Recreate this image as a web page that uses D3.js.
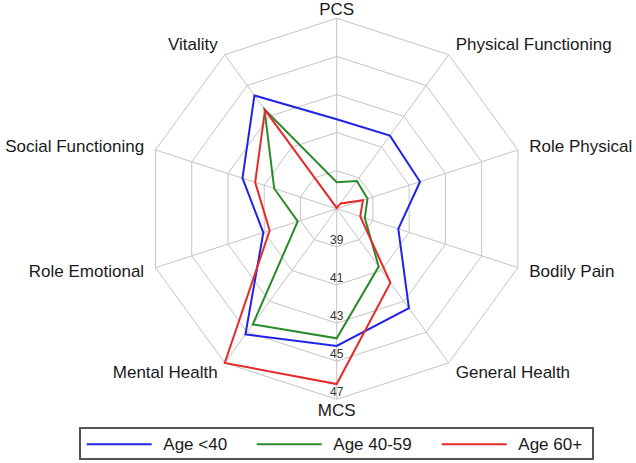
<!DOCTYPE html>
<html>
<head>
<meta charset="utf-8">
<script src="https://cdn.jsdelivr.net/npm/d3@7"></script>
<style>
html,body{margin:0;padding:0;background:#fff;}
svg{display:block;}
text{font-family:"Liberation Sans",Arial,sans-serif;}
</style>
</head>
<body>
<svg id="chart" width="636" height="463"></svg>
<script>
const axesLabels = ["PCS","Physical Functioning","Role Physical","Bodily Pain","General Health","MCS","Mental Health","Role Emotional","Social Functioning","Vitality"];
const tickValues = [39,41,43,45,47];
const seriesNames = ["Age <40","Age 40-59","Age 60+"];
const ageUnder40 = [41.7, 41.75, 41.6, 40.4, 43.45, 44.2, 45.15, 41.05, 42.2, 44.35];
const age40to59 = [38.4, 38.8, 38.7, 38.55, 40.75, 43.8, 44.5, 39.15, 40.45, 43.45];
const age60plus = [37.05, 37.35, 38.45, 38.3, 41.8, 46.2, 47.0, 40.7, 41.5, 43.4];
const seriesColors = ["#2222e6","#2a8a2a","#e62a2a"];

const series = [ageUnder40, age40to59, age60plus];
const svg = d3.select("#chart");
const cx = 336.7, cy = 208.8, R = 190.5;
const rScale = d3.scaleLinear().domain([37,47]).range([0,R]);
const angle = d3.scalePoint().domain(axesLabels).range([0, 2*Math.PI*(axesLabels.length-1)/axesLabels.length]);
function pt(axis, v){ const a = angle(axis); const r = rScale(v); return [cx + r*Math.sin(a), cy - r*Math.cos(a)]; }

const g = svg.append("g");
// rings
tickValues.forEach(t=>{
  const pts = axesLabels.map(a=>pt(a,t));
  g.append("polygon").attr("points", pts.map(p=>p.join(",")).join(" "))
    .attr("fill","none").attr("stroke","#c4c4c4").attr("stroke-width",1);
});
// spokes
axesLabels.forEach(a=>{
  const p = pt(a,47);
  g.append("line").attr("x1",cx).attr("y1",cy).attr("x2",p[0]).attr("y2",p[1])
    .attr("stroke","#c4c4c4").attr("stroke-width",1);
});
// tick labels
tickValues.forEach(t=>{
  const p = pt("MCS", t);
  g.append("text").attr("x",p[0]).attr("y",p[1]-7).attr("text-anchor","middle")
   .attr("dominant-baseline","central").attr("font-size",12).attr("fill","#333").text(t);
});
// axis labels
axesLabels.forEach(a=>{
  const ang = angle(a);
  const s = Math.sin(ang), c = Math.cos(ang);
  const vertical = Math.abs(s) < 0.01;
  const r = vertical ? R + 11 : R + 12;
  let x = cx + r*s, y = cy - r*c;
  if (vertical && c > 0) y = 9.5;
  const anchor = vertical ? "middle" : (s > 0 ? "start" : "end");
  g.append("text").attr("x",x).attr("y",y).attr("text-anchor",anchor)
   .attr("dominant-baseline","central").attr("font-size",17).attr("fill","#1a1a1a").text(a);
});
// series
const line = d3.line().curve(d3.curveLinearClosed);
series.forEach((vals,i)=>{
  const pts = axesLabels.map((a,j)=>pt(a, vals[j]));
  g.append("path").attr("d", line(pts)).attr("fill","none")
   .attr("stroke", seriesColors[i]).attr("stroke-width",2).attr("stroke-linejoin","miter");
});
// legend
const lg = svg.append("g");
lg.append("rect").attr("x",80).attr("y",428).attr("width",513).attr("height",31)
  .attr("fill","#fff").attr("stroke","#555").attr("stroke-width",2);
const legendX = [86.7, 256.7, 441.7];
seriesNames.forEach((n,i)=>{
  lg.append("line").attr("x1",legendX[i]).attr("x2",legendX[i]+65).attr("y1",444.3).attr("y2",444.3)
    .attr("stroke",seriesColors[i]).attr("stroke-width",2);
  lg.append("text").attr("x",legendX[i]+76.6).attr("y",444.3).attr("dominant-baseline","central")
    .attr("font-size",17).attr("fill","#1a1a1a").text(n);
});
</script>
</body>
</html>
